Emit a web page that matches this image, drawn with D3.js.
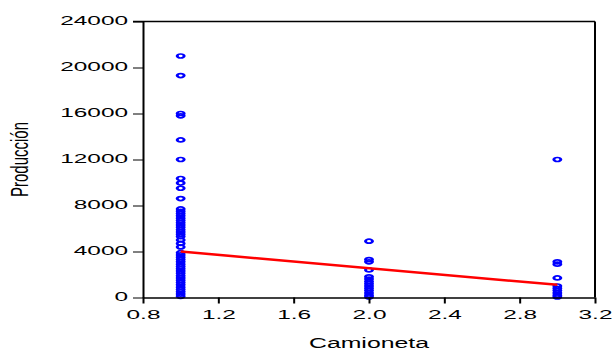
<!DOCTYPE html>
<html>
<head>
<meta charset="utf-8">
<script src="https://cdn.jsdelivr.net/npm/d3@7"></script>
<style>
body { margin: 0; background: #fff; }
text { font-family: "Liberation Sans", Arial, sans-serif; fill: #000; }
</style>
</head>
<body>
<div id="chart"></div>
<script>
// values
const camionetaLevels = [1, 2, 3];
const produccionCam1 = [21000, 19300, 16000, 15800, 13700, 12000, 10350, 9950, 9500, 8600,
    7700, 7500, 7300, 7100, 6900, 6700, 6500, 6300, 6100, 5900, 5700, 5500, 5300, 5000, 4700, 4400,
    3900, 3700, 3500, 3300, 3100, 2900, 2700, 2500, 2300, 2100, 1900, 1700, 1500, 1300, 1100,
    900, 700, 500, 300, 100];
const produccionCam2 = [4900, 3300, 3100, 2400, 1800, 1600, 1400, 1200, 1000, 800, 600, 400, 200, 50];
const produccionCam3 = [12000, 3100, 2900, 1700, 1000, 800, 600, 400, 200, 50];
const fitX = [1, 3];
const fitY = [4000, 1100];
const xTicks = [0.8, 1.2, 1.6, 2.0, 2.4, 2.8, 3.2];
const yTicks = [0, 4000, 8000, 12000, 16000, 20000, 24000];

const margin = {top: 21.5, right: 21, bottom: 53.5, left: 143};
const width = 616 - margin.left - margin.right;
const height = 351 - margin.top - margin.bottom;

const svg = d3.select("#chart")
    .append("svg")
    .attr("width", width + margin.left + margin.right)
    .attr("height", height + margin.top + margin.bottom)
    .append("g")
    .attr("transform", "translate(" + margin.left + "," + margin.top + ")");

const xScale = d3.scaleLinear().domain([0.8, 3.2]).range([0, width]);
const yScale = d3.scaleLinear().domain([0, 24000]).range([height, 0]);

const series = [produccionCam1, produccionCam2, produccionCam3];
const points = [];
series.forEach((vals, i) => {
    vals.forEach(v => points.push({x: camionetaLevels[i], y: v}));
});

// the original picture is stretched sideways, so text gets widened too
function stretchText(sel, k) {
    sel.each(function () {
        const w = this.getComputedTextLength();
        d3.select(this).attr("textLength", w * k).attr("lengthAdjust", "spacingAndGlyphs");
    });
}

// points
svg.selectAll(".dot")
    .data(points)
    .enter().append("circle")
    .attr("class", "dot")
    .attr("r", 2)
    .attr("transform", d => `translate(${xScale(d.x)},${yScale(d.y)}) scale(1.75,1)`)
    .attr("fill", "none")
    .attr("stroke", "#0000ff")
    .attr("stroke-width", 1.7);

// fitted line
const fitData = fitX.map((x, i) => ({x: x, y: fitY[i]}));
svg.append("path")
    .datum(fitData)
    .attr("fill", "none")
    .attr("stroke", "#ff0000")
    .attr("stroke-width", 2.5)
    .attr("d", d3.line().x(d => xScale(d.x)).y(d => yScale(d.y)));

// Y-Axis
const yAxis = d3.axisLeft(yScale)
    .tickValues(yTicks)
    .tickFormat(d3.format("d"))
    .tickSize(10)
    .tickSizeOuter(0)
    .tickPadding(5);
const yAxisGroup = svg.append("g").call(yAxis);
yAxisGroup.select(".domain").attr("stroke-width", 2);
yAxisGroup.selectAll(".tick line").attr("stroke-width", 1);
yAxisGroup.selectAll(".tick text")
    .attr("font-size", "12.5px")
    .attr("dy", "0.22em")
    .call(stretchText, 1.95);

// X-Axis
const xAxis = d3.axisBottom(xScale)
    .tickValues(xTicks)
    .tickFormat(d3.format(".1f"))
    .tickSize(6)
    .tickSizeOuter(0)
    .tickPadding(7);
const xAxisGroup = svg.append("g")
    .attr("transform", `translate(0, ${height})`)
    .call(xAxis);
xAxisGroup.select(".domain").attr("stroke-width", 1.3);
xAxisGroup.selectAll(".tick line").attr("stroke-width", 2);
xAxisGroup.selectAll(".tick text")
    .attr("font-size", "12.5px")
    .call(stretchText, 1.95);

// top and right frame
svg.append("line")
    .attr("x1", -10).attr("x2", width)
    .attr("y1", 0).attr("y2", 0)
    .attr("stroke", "#000").attr("stroke-width", 1.3);
svg.append("line")
    .attr("x1", width).attr("x2", width)
    .attr("y1", 0).attr("y2", height)
    .attr("stroke", "#000").attr("stroke-width", 2);

// axis labels
svg.append("text")
    .attr("x", width / 2)
    .attr("y", height + 50.5)
    .attr("font-size", "15.5px")
    .style("text-anchor", "middle")
    .text("Camioneta")
    .call(stretchText, 1.6);

svg.append("text")
    .attr("transform", `translate(${20 - margin.left}, ${height / 2}) scale(1.6,1) rotate(-90)`)
    .attr("dy", "0.35em")
    .attr("font-size", "15px")
    .style("text-anchor", "middle")
    .text("Producción");
</script>
</body>
</html>
